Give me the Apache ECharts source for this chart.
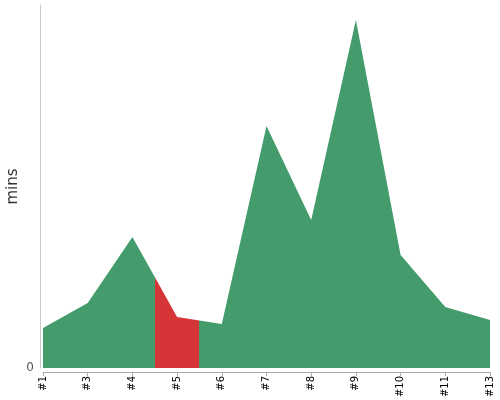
<!DOCTYPE html>
<html>
<head>
<meta charset="utf-8">
<script src="https://cdn.jsdelivr.net/npm/echarts@6/dist/echarts.min.js"></script>
<style>
  html, body { margin: 0; padding: 0; background: #fff; }
  #chart { width: 500px; height: 400px; }
</style>
</head>
<body>
<div id="chart"></div>
<script>
// runs on the x axis
var categories = ['#1', '#3', '#4', '#5', '#6', '#7', '#8', '#9', '#10', '#11', '#13']
// minutes per run
var mins = [40, 65, 131, 51, 44, 242, 148, 348, 113, 61, 48]
var yTicks = [0]

// x is a value axis (index) so the highlighted band can start half way between points
var points = mins.map(function (v, i) { return [i, v] })

var chart = echarts.init(document.getElementById('chart'))
chart.setOption({
  animation: false,
  textStyle: { fontFamily: 'DejaVu Sans' },
  grid: { left: 43, right: 10, top: 5, bottom: 32, outerBoundsMode: 'none' },
  xAxis: {
    type: 'value',
    min: 0,
    max: categories.length - 1,
    interval: 1,
    offset: 4,
    splitLine: { show: false },
    axisLine: { onZero: false, lineStyle: { color: '#aaa' } },
    axisTick: { show: true, length: 4, lineStyle: { color: '#aaa' } },
    axisLabel: {
      rotate: 90, color: '#000', fontSize: 10, margin: 4,
      formatter: function (v) { return categories[v] }
    }
  },
  yAxis: {
    type: 'value',
    name: 'mins',
    nameLocation: 'middle',
    nameGap: 19,
    nameMoveOverlap: false,
    nameTextStyle: { fontSize: 15, color: '#333' },
    min: 0,
    max: 363,
    interval: 363,
    offset: 3,
    splitLine: { show: false },
    axisLine: { show: true, onZero: false, lineStyle: { color: '#c8c8c8' } },
    axisTick: { show: false },
    axisLabel: {
      color: '#555',
      fontSize: 12,
      margin: 6,
      formatter: function (v) { return yTicks.indexOf(v) >= 0 ? String(v) : '' }
    }
  },
  visualMap: {
    show: false,
    type: 'piecewise',
    dimension: 0,
    seriesIndex: 0,
    pieces: [{ gt: 2.5, lte: 3.5, color: '#d63537' }],
    outOfRange: { color: '#449c6c' }
  },
  series: [{
    type: 'line',
    data: points,
    symbol: 'none',
    lineStyle: { width: 0 },
    areaStyle: { opacity: 1 }
  }]
})
</script>
</body>
</html>
